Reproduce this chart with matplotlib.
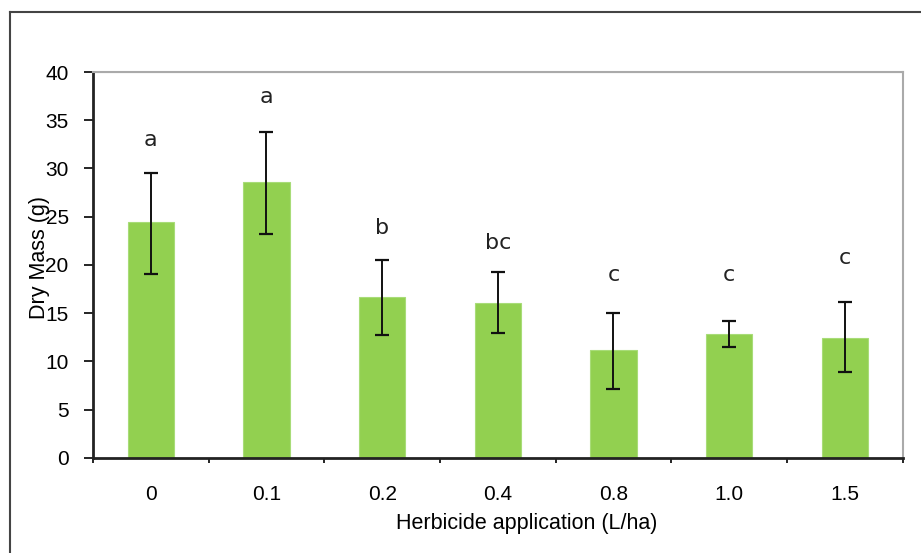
""" Import Required Libraries """
import numpy as np
import matplotlib.pyplot as plt
from matplotlib.lines import Line2D

""" Data """
doses = ["0", "0.1", "0.2", "0.4", "0.8", "1.0", "1.5"]
dry_mass = [24.5, 28.6, 16.7, 16.1, 11.2, 12.9, 12.4]
err_upper = [29.5, 33.8, 20.5, 19.3, 15.0, 14.2, 16.2]
err_lower = [19.1, 23.2, 12.7, 12.95, 7.2, 11.5, 8.9]
groups = ["a", "a", "b", "bc", "c", "c", "c"]
group_y = [32.95, 37.4, 23.8, 22.3, 19.0, 19.0, 20.7]

plt.rcParams['font.family'] = ['Liberation Sans', 'DejaVu Sans']

x = np.arange(len(doses))
yerr = np.array([np.array(dry_mass) - np.array(err_lower),
                 np.array(err_upper) - np.array(dry_mass)])

fig = plt.figure(figsize=(9.21, 5.53), dpi=100)
ax = fig.add_axes([0.101, 0.1718, 0.879, 0.698])

""" Bars and error bars """
ax.bar(x, dry_mass, width=0.4, color="#92D050", edgecolor="#A8DC78", linewidth=0.8, zorder=2)
ax.errorbar(x, dry_mass, yerr=yerr, fmt="none", ecolor="#111111",
            elinewidth=1.4, capsize=5, capthick=1.6, zorder=3)

""" Significance letters """
for xi, g, gy in zip(x, groups, group_y):
    ax.text(xi, gy, g, ha="center", va="center", fontsize=16, color="#222222",
            family=['DejaVu Sans'])

""" Axes styling """
ax.set_xlim(-0.5, len(doses) - 0.5)
ax.set_ylim(0, 40)
ax.set_yticks(np.arange(0, 41, 5))
ax.tick_params(axis="y", length=6.5, width=1.2, pad=11, labelsize=15, direction="out")

ax.set_xticks(np.arange(-0.5, len(doses), 1.0))
ax.set_xticklabels([])
ax.tick_params(axis="x", which="major", length=3.5, width=1.2, direction="out")
ax.set_xticks(x, minor=True)
ax.set_xticklabels(doses, minor=True)
ax.tick_params(axis="x", which="minor", length=0, pad=19.5, labelsize=15)

ax.axhline(40, color="#AAAAAA", linewidth=1.5, zorder=1)
for side in ["top", "right"]:
    ax.spines[side].set_color("#AAAAAA")
    ax.spines[side].set_linewidth(1.5)
for side in ["left", "bottom"]:
    ax.spines[side].set_color("#222222")
    ax.spines[side].set_linewidth(2)

ax.set_ylabel("Dry Mass (g)", fontsize=15.5)
ax.yaxis.set_label_coords(-0.053, 0.52)
ax.set_xlabel("Herbicide application (L/ha)", fontsize=15.5)
ax.xaxis.set_label_coords(0.536, -0.142)

""" Outer frame (left and top edges visible) """
fig.add_artist(Line2D([10 / 921, 10 / 921], [0, 1 - 12 / 553],
                      transform=fig.transFigure, color="#444444", linewidth=1.5))
fig.add_artist(Line2D([10 / 921, 1], [1 - 12 / 553, 1 - 12 / 553],
                      transform=fig.transFigure, color="#444444", linewidth=1.5))

fig.savefig("out.png", dpi=100)
